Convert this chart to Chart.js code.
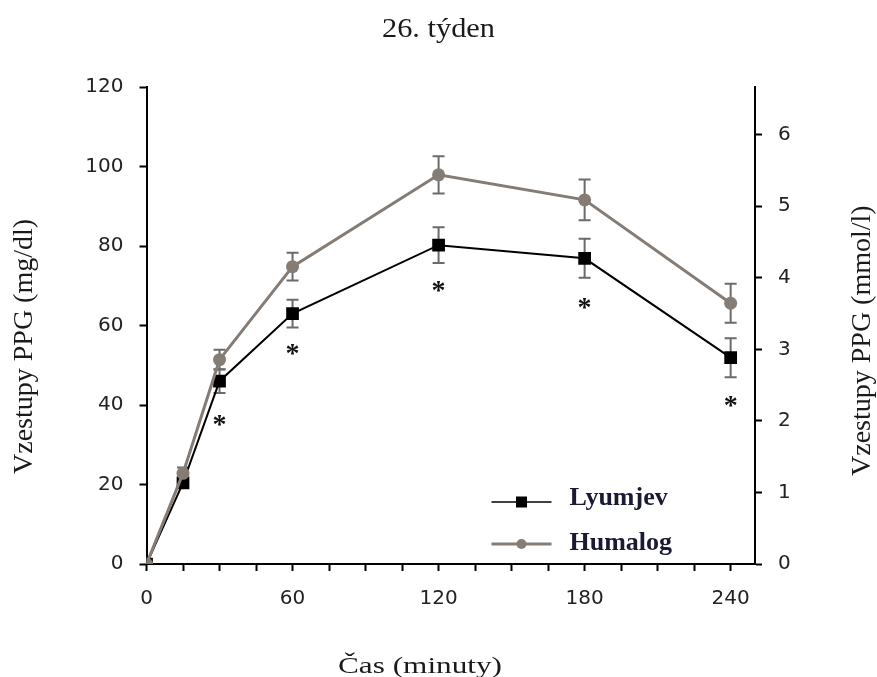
<!DOCTYPE html>
<html><head><meta charset="utf-8">
<script src="https://cdn.jsdelivr.net/npm/chart.js@4"></script>
<style>html,body{margin:0;padding:0;background:#fff}</style>
</head><body>
<canvas id="c" width="877" height="677"></canvas>
<script>
// ---- data ----
const times = [0, 15, 30, 60, 120, 180, 240];            // minutes
const lyumjev = [0, 20.4, 46, 63, 80.2, 76.9, 51.9];      // mg/dl
const lyumjevErr = [0, 1, 3, 3.5, 4.5, 4.9, 4.9];
const humalog = [0, 22.8, 51.4, 74.8, 97.9, 91.6, 65.6];  // mg/dl
const humalogErr = [0, 1.5, 2.5, 3.5, 4.7, 5.1, 4.9];
const starTimes = [30, 60, 120, 180, 240];
const starValues = [36, 54, 69.8, 65.6, 40.8];
const xLabelTimes = [0, 60, 120, 180, 240];
const seriesNames = ['Lyumjev', 'Humalog'];
const chartTitle = '26. týden';
const xTitle = 'Čas (minuty)';
const yTitle = 'Vzestupy PPG (mg/dl)';
const y2Title = 'Vzestupy PPG (mmol/l)';
const mgPerMmol = 18;

const BLACK = '#000000';
const GREY = '#847c75';
const ERR = '#6b6b6b';
const TXT = '#1a1a1a';
const SERIF = '"Liberation Serif", "Times New Roman", serif';
const SANS = '"DejaVu Sans", Verdana, sans-serif';

const toPts = (vals) => times.map((t, i) => ({x: t, y: vals[i]}));

function fitText(ctx, text, cx, baseline, width) {
  const w = ctx.measureText(text).width;
  ctx.save();
  ctx.translate(cx, baseline);
  ctx.scale(width / w, 1);
  ctx.textAlign = 'center';
  ctx.fillText(text, 0, 0);
  ctx.restore();
}

const extras = {
  id: 'extras',
  beforeDatasetsDraw(chart) {
    const {ctx, scales: {x, y}} = chart;
    ctx.save();
    ctx.strokeStyle = ERR;
    ctx.lineWidth = 2;
    const cap = 6;
    [[lyumjev, lyumjevErr], [humalog, humalogErr]].forEach(([vals, errs]) => {
      vals.forEach((v, i) => {
        if (!errs[i]) return;
        const px = x.getPixelForValue(times[i]);
        const top = y.getPixelForValue(v + errs[i]);
        const bot = y.getPixelForValue(v - errs[i]);
        ctx.beginPath();
        ctx.moveTo(px, top); ctx.lineTo(px, bot);
        ctx.moveTo(px - cap, top); ctx.lineTo(px + cap, top);
        ctx.moveTo(px - cap, bot); ctx.lineTo(px + cap, bot);
        ctx.stroke();
      });
    });
    ctx.restore();
  },
  afterDraw(chart) {
    const {ctx, scales: {x, y}, chartArea: ca} = chart;
    ctx.save();
    // significance stars
    ctx.fillStyle = '#111';
    ctx.font = 'bold 28px ' + SERIF;
    ctx.textAlign = 'center';
    ctx.textBaseline = 'alphabetic';
    starTimes.forEach((t, i) => {
      const m = ctx.measureText('*');
      const cx = x.getPixelForValue(t);
      const cy = y.getPixelForValue(starValues[i]);
      const base = cy - (m.actualBoundingBoxDescent - m.actualBoundingBoxAscent) / 2;
      ctx.fillText('*', cx, base);
    });
    // chart title
    ctx.fillStyle = TXT;
    ctx.font = '28px ' + SERIF;
    fitText(ctx, chartTitle, chart.width / 2, 37, 113);
    // x title
    ctx.font = '24px ' + SERIF;
    fitText(ctx, xTitle, 420, 673, 164);
    // y titles (both read bottom-to-top)
    ctx.font = '28px ' + SERIF;
    ctx.textAlign = 'left';
    ctx.textBaseline = 'middle';
    ctx.save();
    ctx.translate(25, 474); ctx.rotate(-Math.PI / 2);
    ctx.fillText(yTitle, 0, 0);
    ctx.restore();
    ctx.save();
    ctx.translate(863, 476); ctx.rotate(-Math.PI / 2);
    ctx.fillText(y2Title, 0, 0);
    ctx.restore();
    // legend
    const lx0 = ca.left + 345, lx1 = ca.left + 405, tx = ca.left + 423;
    const ly = [ca.top + 415, ca.top + 457];
    ctx.strokeStyle = BLACK; ctx.lineWidth = 1.5;
    ctx.beginPath(); ctx.moveTo(lx0, ly[0]); ctx.lineTo(lx1, ly[0]); ctx.stroke();
    ctx.fillStyle = BLACK;
    ctx.fillRect((lx0 + lx1) / 2 - 5.5, ly[0] - 5.5, 11, 11);
    ctx.strokeStyle = GREY; ctx.lineWidth = 3;
    ctx.beginPath(); ctx.moveTo(lx0, ly[1]); ctx.lineTo(lx1, ly[1]); ctx.stroke();
    ctx.fillStyle = GREY;
    ctx.beginPath(); ctx.arc((lx0 + lx1) / 2, ly[1], 5, 0, Math.PI * 2); ctx.fill();
    ctx.fillStyle = '#1a1a33';
    ctx.font = 'bold 26px ' + SERIF;
    ctx.textBaseline = 'alphabetic';
    ctx.fillText(seriesNames[0], tx, ly[0] + 3);
    ctx.fillText(seriesNames[1], tx, ly[1] + 6);
    ctx.restore();
  }
};

const axisGrid = {drawOnChartArea: false, drawTicks: true, tickLength: 7, tickWidth: 2, tickColor: BLACK, color: BLACK};
const axisBorder = {display: true, color: BLACK, width: 2};
const tickFont = {family: SANS, size: 20};

new Chart(document.getElementById('c'), {
  type: 'line',
  data: {
    datasets: [
      {label: seriesNames[1], data: toPts(humalog), borderColor: GREY, backgroundColor: GREY,
       borderWidth: 3, pointStyle: 'circle', pointRadius: 6.5, pointBorderWidth: 0,
       pointBackgroundColor: GREY, tension: 0, yAxisID: 'y', order: 0},
      {label: seriesNames[0], data: toPts(lyumjev), borderColor: BLACK, backgroundColor: BLACK,
       borderWidth: 2, pointStyle: 'rect', pointRadius: 9, pointBorderWidth: 0,
       pointBackgroundColor: BLACK, tension: 0, yAxisID: 'y', order: 1}
    ]
  },
  options: {
    responsive: false,
    animation: false,
    devicePixelRatio: 1,
    layout: {padding: {top: 87, left: 0, right: 0, bottom: 0}},
    plugins: {legend: {display: false}, title: {display: false}, tooltip: {enabled: false}},
    scales: {
      x: {
        type: 'linear', position: 'bottom', min: 0, max: 250,
        grid: axisGrid, border: axisBorder,
        ticks: {stepSize: 15, includeBounds: false, autoSkip: false, maxRotation: 0,
                font: tickFont, color: '#222', padding: 16,
                callback: (v) => xLabelTimes.includes(v) ? String(v) : ''},
        afterFit: (s) => { s.height = 113; }
      },
      y: {
        type: 'linear', position: 'left', min: 0, max: 120,
        grid: axisGrid, border: axisBorder,
        ticks: {stepSize: 20, font: tickFont, color: '#222', padding: 16},
        afterFit: (s) => { s.width = 146.5; }
      },
      y2: {
        type: 'linear', position: 'right', min: 0, max: 120 / mgPerMmol,
        grid: axisGrid, border: axisBorder,
        ticks: {stepSize: 1, includeBounds: false, font: tickFont, color: '#222', padding: 16,
                callback: (v) => Number.isInteger(v) ? String(v) : ''},
        afterFit: (s) => { s.width = 122; }
      }
    }
  },
  plugins: [extras]
});
</script>
</body></html>
